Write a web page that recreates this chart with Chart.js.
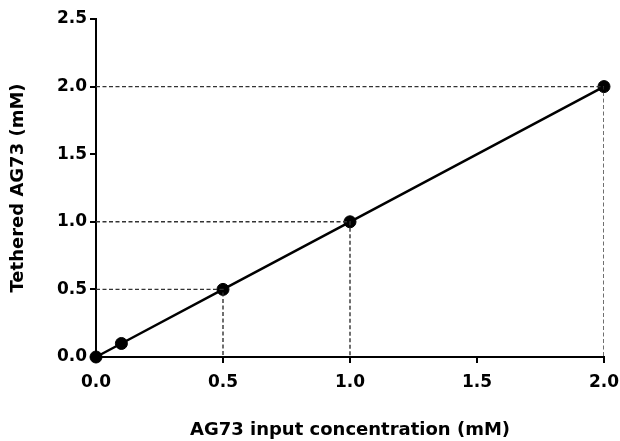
<!DOCTYPE html>
<html>
<head>
<meta charset="utf-8">
<script src="https://cdn.jsdelivr.net/npm/chart.js@4"></script>
<style>
  html, body { margin: 0; padding: 0; background: #fff; }
  #wrap { width: 620px; height: 441px; }
</style>
</head>
<body>
<div id="wrap"><canvas id="chart" width="620" height="441"></canvas></div>
<script>
// input concentration (mM) vs tethered amount (mM)
const inputConc = [0, 0.1, 0.5, 1.0, 2.0]
const tethered = [0, 0.1, 0.5, 1.0, 2.0]
// points that get dashed guide lines to both axes
const guideX = [0.5, 1.0, 2.0]
const guideY = [0.5, 1.0, 2.0]
const xTicks = [0, 0.5, 1.0, 1.5, 2.0]
const yTicks = [0, 0.5, 1.0, 1.5, 2.0, 2.5]

const FONT = "'DejaVu Sans', sans-serif"

const guides = guideX.map((gx, i) => ({
  data: [{ x: 0, y: guideY[i] }, { x: gx, y: guideY[i] }, { x: gx, y: 0 }],
  showLine: true,
  borderColor: '#333',
  borderWidth: 1.4,
  borderDash: [4, 2.5],
  pointRadius: 0,
  pointHoverRadius: 0,
  fill: false,
  tension: 0
}))

const ctx = document.getElementById('chart').getContext('2d')
new Chart(ctx, {
  type: 'scatter',
  data: {
    datasets: [
      ...guides,
      {
        data: inputConc.map((x, i) => ({ x: x, y: tethered[i] })),
        showLine: true,
        borderColor: '#000',
        borderWidth: 2.5,
        backgroundColor: '#000',
        pointBorderColor: '#000',
        pointBackgroundColor: '#000',
        pointBorderWidth: 1,
        pointRadius: 6,
        pointHoverRadius: 6,
        clip: false
      }
    ]
  },
  options: {
    responsive: false,
    animation: false,
    layout: { padding: { left: 0, top: 19, right: 16, bottom: 0 } },
    plugins: { legend: { display: false }, tooltip: { enabled: false } },
    scales: {
      x: {
        type: 'linear',
        min: 0,
        max: 2,
        afterBuildTicks: (axis) => { axis.ticks = xTicks.map(v => ({ value: v })) },
        afterFit: (axis) => {
          axis.height = 84
          axis.paddingRight = 16
          axis.paddingLeft = 0
        },
        border: { color: '#000', width: 2 },
        grid: { drawOnChartArea: false, color: '#000', lineWidth: 2, tickLength: 6 },
        ticks: {
          color: '#000',
          padding: 9,
          font: { family: FONT, size: 17, weight: 'bold' },
          callback: (v) => Number(v).toFixed(1)
        },
        title: {
          display: true,
          text: 'AG73 input concentration (mM)',
          color: '#000',
          font: { family: FONT, size: 18, weight: 'bold' },
          padding: { top: 0, bottom: 0 }
        }
      },
      y: {
        type: 'linear',
        min: 0,
        max: 2.5,
        afterBuildTicks: (axis) => { axis.ticks = yTicks.map(v => ({ value: v })) },
        afterFit: (axis) => { axis.width = 96 },
        border: { color: '#000', width: 2 },
        grid: { drawOnChartArea: false, color: '#000', lineWidth: 2, tickLength: 6 },
        ticks: {
          color: '#000',
          padding: 3,
          font: { family: FONT, size: 17, weight: 'bold' },
          callback: (v) => Number(v).toFixed(1)
        },
        title: {
          display: true,
          text: 'Tethered AG73 (mM)',
          color: '#000',
          font: { family: FONT, size: 18, weight: 'bold' },
          padding: { top: 8, bottom: 0 }
        }
      }
    }
  }
})
</script>
</body>
</html>
